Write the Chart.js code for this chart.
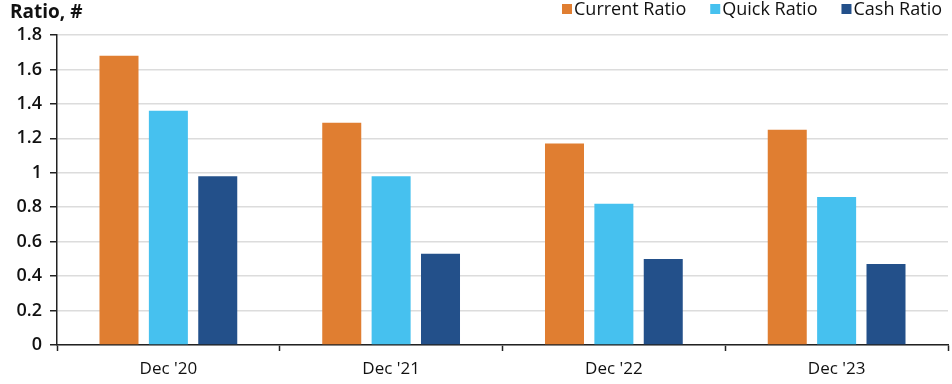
<!DOCTYPE html>
<html>
<head>
<meta charset="utf-8">
<script src="https://cdn.jsdelivr.net/npm/chart.js@4.4.1/dist/chart.umd.min.js"></script>
<style>
  html, body { margin: 0; padding: 0; background: #ffffff; }
  #wrap { width: 952px; height: 384px; position: relative; }
</style>
</head>
<body>
<div id="wrap"><canvas id="c" width="952" height="384"></canvas></div>
<script>
// Liquidity ratios at each year end
const categories = ["Dec '20", "Dec '21", "Dec '22", "Dec '23"];
const currentRatio = [1.68, 1.29, 1.17, 1.25];
const quickRatio   = [1.36, 0.98, 0.82, 0.86];
const cashRatio    = [0.98, 0.53, 0.50, 0.47];
const seriesNames  = ["Current Ratio", "Quick Ratio", "Cash Ratio"];
const yTicks       = [0, 0.2, 0.4, 0.6, 0.8, 1, 1.2, 1.4, 1.6, 1.8];
const titleText    = "Ratio, #";

const FONT = "'Open Sans', 'Noto Sans', sans-serif";
const colors = ['#E07E31', '#46C1EF', '#23508A'];

// Header: chart title on the left, series key on the right
const headerPlugin = {
  id: 'header',
  afterDraw(chart) {
    const ctx = chart.ctx;
    ctx.save();
    ctx.fillStyle = '#111';
    ctx.font = 'bold 19px ' + FONT;
    ctx.textBaseline = 'alphabetic';
    ctx.textAlign = 'left';
    ctx.fillText(titleText, 10, 18);

    ctx.font = '18px ' + FONT;
    ctx.textBaseline = 'middle';
    const box = 10, boxGap = 2, itemGap = 24;
    const ds = chart.data.datasets;
    const widths = ds.map(d => box + boxGap + ctx.measureText(d.label).width);
    let x = 942 - widths.reduce((a, b) => a + b, 0) - itemGap * (ds.length - 1);
    ds.forEach((d, i) => {
      ctx.fillStyle = d.backgroundColor;
      ctx.fillRect(x, 4, box, box);
      ctx.fillStyle = '#111';
      ctx.fillText(d.label, x + box + boxGap, 10);
      x += widths[i] + itemGap;
    });
    ctx.restore();
  }
};

new Chart(document.getElementById('c'), {
  type: 'bar',
  data: {
    labels: categories,
    datasets: [
      { label: seriesNames[0], data: currentRatio, backgroundColor: colors[0] },
      { label: seriesNames[1], data: quickRatio,   backgroundColor: colors[1] },
      { label: seriesNames[2], data: cashRatio,    backgroundColor: colors[2] }
    ]
  },
  options: {
    responsive: false,
    animation: false,
    devicePixelRatio: 1,
    layout: { padding: { top: 35, right: 4, left: 0, bottom: 0 } },
    datasets: { bar: { categoryPercentage: 0.665, barPercentage: 0.79 } },
    plugins: {
      legend: { display: false },
      tooltip: { enabled: false },
      title: { display: false }
    },
    scales: {
      x: {
        offset: true,
        border: { display: true, color: '#222', width: 1.5 },
        grid: { drawOnChartArea: false, drawTicks: true, offset: true, tickLength: 6, tickColor: '#222', tickWidth: 1.5 },
        ticks: { color: '#111', font: { family: FONT, size: 17 }, padding: 8, maxRotation: 0 },
        afterFit(scale) { scale.height = 39; }
      },
      y: {
        min: 0,
        max: 1.8,
        afterBuildTicks(scale) { scale.ticks = yTicks.map(v => ({ value: v })); },
        border: { display: true, color: '#222', width: 1.5 },
        grid: { color: '#dcdcdc', lineWidth: 1.5, tickLength: 7, tickColor: '#222', tickWidth: 1.5 },
        ticks: {
          color: '#111',
          font: { family: FONT, size: 18, weight: '600' },
          padding: 8,
          callback: v => String(parseFloat(Number(v).toFixed(1)))
        },
        afterFit(scale) { scale.width = 57; }
      }
    }
  },
  plugins: [headerPlugin]
});
</script>
</body>
</html>
